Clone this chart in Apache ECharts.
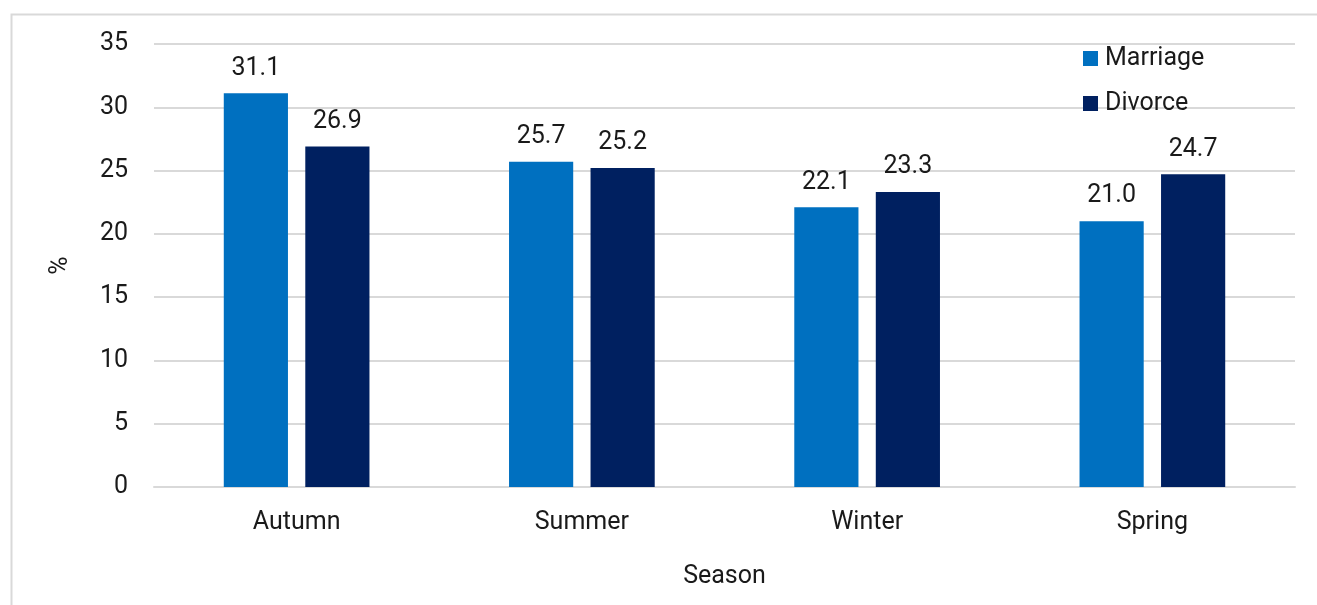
<!DOCTYPE html>
<html>
<head>
<meta charset="utf-8">
<script src="https://cdn.jsdelivr.net/npm/echarts@6/dist/echarts.min.js"></script>
<style>
  html, body { margin: 0; padding: 0; background: #ffffff; }
  #chart { width: 1317px; height: 605px; }
</style>
</head>
<body>
<div id="chart"></div>
<script>
// Share of marriages and divorces by season (%)
const seasons = ['Autumn', 'Summer', 'Winter', 'Spring'];
const marriage = [31.1, 25.7, 22.1, 21.0];
const divorce = [26.9, 25.2, 23.3, 24.7];
const yTicks = [0, 5, 10, 15, 20, 25, 30, 35];

const FONT = 'Roboto';
const FS = 25;
const TEXT = '#1a1a1a';

const chart = echarts.init(document.getElementById('chart'), null, { renderer: 'canvas' });

const valueLabel = {
  show: true,
  position: 'top',
  distance: 12.5,
  fontFamily: FONT,
  fontSize: FS,
  color: TEXT,
  formatter: p => Number(p.value).toFixed(1)
};

chart.setOption({
  animation: false,
  backgroundColor: '#ffffff',
  textStyle: { fontFamily: FONT },
  graphic: [
    {
      type: 'polyline',
      silent: true,
      shape: { points: [[11.5, 605], [11.5, 14.5], [1317, 14.5]] },
      style: { stroke: '#d9d9d9', lineWidth: 2, fill: null }
    }
  ],
  grid: { left: 154, right: 22, top: 44, bottom: 118, containLabel: false },
  legend: {
    orient: 'vertical',
    left: 1083,
    top: 46,
    padding: 0,
    itemWidth: 15,
    itemHeight: 15,
    itemGap: 20,
    icon: 'rect',
    textStyle: { fontFamily: FONT, fontSize: FS, color: TEXT, padding: [0, 0, 0, 2] },
    data: ['Marriage', 'Divorce']
  },
  xAxis: {
    type: 'category',
    data: seasons,
    name: 'Season',
    nameLocation: 'middle',
    nameGap: 77,
    nameTextStyle: { fontFamily: FONT, fontSize: FS, color: TEXT },
    axisLine: { show: true, lineStyle: { color: '#d9d9d9', width: 2 } },
    axisTick: { show: false },
    axisLabel: { fontFamily: FONT, fontSize: FS, color: TEXT, margin: 23 }
  },
  yAxis: {
    type: 'value',
    min: yTicks[0],
    max: yTicks[yTicks.length - 1],
    interval: 5,
    name: '%',
    nameLocation: 'middle',
    nameGap: 81,
    nameRotate: 90,
    nameTextStyle: { fontFamily: FONT, fontSize: FS, color: TEXT },
    axisLine: { show: false },
    axisTick: { show: false },
    axisLabel: { fontFamily: FONT, fontSize: FS, color: TEXT, margin: 26 },
    splitLine: { show: true, lineStyle: { color: '#d9d9d9', width: 2 } }
  },
  series: [
    {
      name: 'Marriage',
      type: 'bar',
      data: marriage,
      barWidth: '22.5%',
      barGap: '27%',
      itemStyle: { color: '#0070c0' },
      label: valueLabel
    },
    {
      name: 'Divorce',
      type: 'bar',
      data: divorce,
      barWidth: '22.5%',
      itemStyle: { color: '#002060' },
      label: valueLabel
    }
  ]
});
</script>
</body>
</html>
